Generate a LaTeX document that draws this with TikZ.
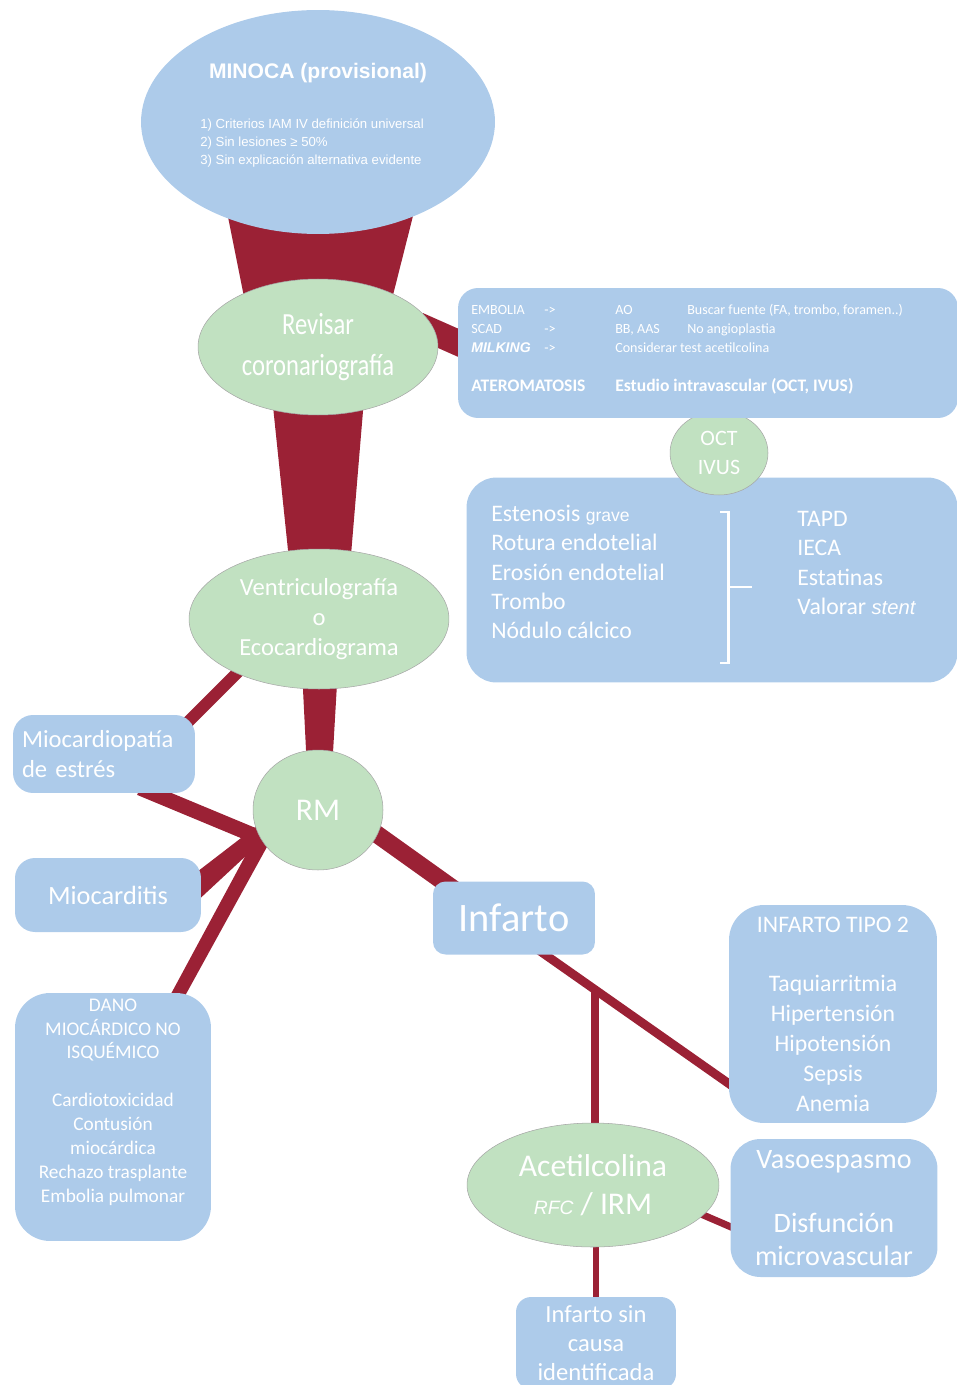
\documentclass[tikz,border=0pt]{standalone}
\usepackage{fontspec}
\setmainfont{Carlito}
\newfontfamily\arialf{Liberation Sans}
\newfontfamily\condf[FakeStretch=0.8]{Carlito}
\usetikzlibrary{shapes.geometric,calc,backgrounds}

\definecolor{boxblue}{RGB}{173,203,234}
\definecolor{bubgreen}{RGB}{193,225,193}
\definecolor{linkred}{RGB}{155,33,53}

\tikzset{bb/.style={fill=boxblue, rounded corners=0.4cm, inner sep=0pt, text=white, align=center}}
\tikzset{bub/.style={ellipse, fill=bubgreen, draw=gray!70, line width=0.3pt, inner sep=0pt, text=white, align=center}}
\tikzset{txt/.style={text=white, inner sep=0pt}}
\tikzset{link/.style={fill=linkred}}
\tikzset{bar/.style={draw=linkred, line width=#1}}

\begin{document}
\begin{tikzpicture}[x=0.02cm, y=-0.02cm]
    \useasboundingbox (0,0) rectangle (956,1385);

    % main column
    \node[bub, draw=none, fill=boxblue, minimum width=7.08cm, minimum height=4.48cm] (minoca) at (318,122) {};
    \node[txt, font=\arialf\bfseries\fontsize{12}{14}\selectfont] (minocatitle) at ([shift={(0,-49)}]minoca) {MINOCA (provisional)};
    \node[txt, anchor=west, align=left, font=\arialf\fontsize{7.5}{10.2}\selectfont] (minocalist) at ([shift={(-118,21)}]minoca) {1) Criterios IAM IV definición universal\\2) Sin lesiones ≥ 50\%\\3) Sin explicación alternativa evidente};

    \node[bub, minimum width=4.8cm, minimum height=2.72cm, font=\condf\fontsize{17.5}{23}\selectfont] (revisar) at (318,347) {Revisar\\coronariografía};
    \node[bub, minimum width=5.2cm, minimum height=2.8cm, font=\fontsize{14}{17}\selectfont] (ventr) at (319,619) {Ventriculografía\\o\\Ecocardiograma};
    \node[bub, minimum width=2.6cm, minimum height=2.4cm, font=\fontsize{18}{20}\selectfont] (rm) at (318,810) {RM};

    % left branches
    \node[bb, minimum width=3.64cm, minimum height=1.56cm, text width=3.28cm, inner xsep=0.18cm, align=left, font=\fontsize{14}{17}\selectfont] (miocpat) at (104,754) {Miocardiopatía\\de estrés};
    \node[bb, minimum width=3.72cm, minimum height=1.48cm, font=\fontsize{15}{17}\selectfont] (miocard) at (108,895) {Miocarditis};
    \node[bb, rounded corners=0.7cm, minimum width=3.92cm, minimum height=4.96cm] (dano) at (113,1117) {};
    \node[txt, align=center, font=\fontsize{11}{13.6}\selectfont] (danotext) at ([shift={(0,-15)}]dano) {DANO\\MIOCÁRDICO NO\\ISQUÉMICO\\[13.6pt]Cardiotoxicidad\\Contusión\\miocárdica\\Rechazo trasplante\\Embolia pulmonar};

    % right branches
    \node[bb, rounded corners=0.25cm, minimum width=3.24cm, minimum height=1.46cm, font=\fontsize{23}{25}\selectfont] (infarto) at (514,918) {Infarto};
    \node[bb, rounded corners=0.7cm, minimum width=4.16cm, minimum height=4.36cm, font=\fontsize{13.5}{17}\selectfont] (tipo2) at (833,1014) {INFARTO TIPO 2\\[17pt]Taquiarritmia\\Hipertensión\\Hipotensión\\Sepsis\\Anemia};
    \node[bb, rounded corners=0.6cm, minimum width=4.14cm, minimum height=2.76cm, font=\fontsize{16}{18.7}\selectfont] (vaso) at (834,1208) {Vasoespasmo\\[18.2pt]Disfunción\\microvascular};
    \node[bub, minimum width=5.04cm, minimum height=2.48cm, font=\fontsize{18}{21.5}\selectfont] (acetil) at (593,1185) {Acetilcolina\\{\arialf\itshape\fontsize{11}{13}\selectfont RFC} / IRM};
    \node[bb, rounded corners=0.3cm, minimum width=3.2cm, minimum height=1.84cm, font=\fontsize{14}{16.4}\selectfont] (sincausa) at (596,1343) {Infarto sin\\causa\\identificada};

    % coronary findings
    \node[bb, rounded corners=0.6cm, minimum width=9.82cm, minimum height=4.1cm] (lowbox) at (712,580) {};
    \node[txt, anchor=west, align=left, font=\fontsize{13.5}{16.6}\selectfont] (lesion) at (491,572) {Estenosis {\arialf\fontsize{10}{12}\selectfont grave}\\Rotura endotelial\\Erosión endotelial\\Trombo\\Nódulo cálcico};
    \node[txt, anchor=west, align=left, font=\fontsize{13.5}{16.6}\selectfont] (tratam) at (797,563) {TAPD\\IECA\\Estatinas\\Valorar {\arialf\itshape\fontsize{11.5}{14}\selectfont stent}};
    \draw[white, line width=1.7pt] (720,512) -- (728,512) -- (728,663) -- (720,663) (728,587) -- (752,587);

    \node[bub, minimum width=1.96cm, minimum height=1.68cm, font=\fontsize{12.5}{16}\selectfont] (oct) at (719,453) {OCT\\IVUS};

    \node[bb, minimum width=10cm, minimum height=2.6cm] (topbox) at (708,353) {};
    \node[txt, anchor=base west, font=\fontsize{8}{10.8}\selectfont] (causas) at (471,315) {%
      \begin{tabular}[t]{@{}p{1.46cm}@{}p{1.42cm}@{}p{1.44cm}@{}l@{}}
        EMBOLIA & -> & AO & Buscar fuente (FA, trombo, foramen..)\\
        SCAD & -> & BB, AAS & No angioplastia\\
        {\arialf\bfseries\itshape MILKING} & -> & \multicolumn{2}{@{}l@{}}{Considerar test acetilcolina}\\[11.3pt]
        \multicolumn{2}{@{}l@{}}{\fontsize{10}{12}\selectfont\bfseries ATEROMATOSIS} & \multicolumn{2}{@{}l@{}}{\fontsize{10}{12}\selectfont\bfseries Estudio intravascular (OCT, IVUS)}
      \end{tabular}};

    % connectors
    \begin{scope}[on background layer]
    \fill[link] ($(minoca)+(-91,90)$) -- ($(minoca)+(96,90)$) -- ($(revisar)+(72,-40)$) -- ($(revisar)+(-72,-40)$) -- cycle;
    \fill[link] ($(revisar)+(-47,40)$) -- ($(revisar)+(47,40)$) -- ($(ventr)+(30,-40)$) -- ($(ventr)+(-28,-40)$) -- cycle;
    \fill[link] ($(ventr)+(-18,30)$) -- ($(ventr)+(20,30)$) -- ($(rm)+(14,-40)$) -- ($(rm)+(-11,-40)$) -- cycle;
    \draw[bar=14.7pt] ($(revisar)+(100,-22)$) -- ($(topbox)+(-229,-1)$);
    \draw[bar=6.8pt] ($(ventr)+(-59,31)$) -- ($(miocpat)+(66,-14)$);
    \draw[bar=8.5pt] ($(miocpat)+(36,34)$) -- ($(rm)+(-53,30)$);
    \fill[link] ($(miocard)+(85,-20)$) -- ($(rm)+(-60,15)$) -- ($(rm)+(-55,30)$) -- ($(miocard)+(85,10)$) -- cycle;
    \fill[link] ($(dano)+(52,-112)$) -- ($(rm)+(-63,28)$) -- ($(rm)+(-50,35)$) -- ($(dano)+(67,-112)$) -- cycle;
    \draw[bar=10pt] ($(rm)+(32,5)$) -- ($(infarto)+(-24,-3)$);
    \draw[bar=5pt] ($(infarto)+(6,19)$) -- coordinate[pos=0.333] (split) ($(tipo2)+(-88,81)$);
    \draw[bar=4.5pt] (split) -- (split |- acetil);
    \draw[bar=4pt] ($(acetil)+(87,20)$) -- ($(vaso)+(-89,25)$);
    \draw[bar=3pt] (sincausa |- acetil) -- (sincausa);
    \end{scope}
\end{tikzpicture}
\end{document}
